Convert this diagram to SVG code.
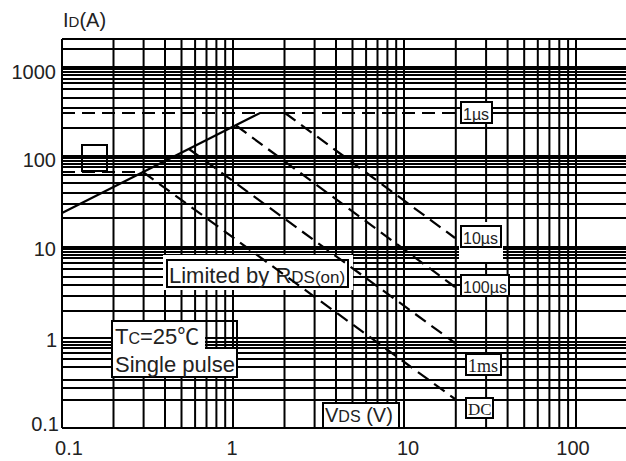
<svg xmlns="http://www.w3.org/2000/svg" width="626" height="461" viewBox="0 0 626 461">
<style>
.grid{stroke:#000;stroke-width:2;fill:none}
.t{font-family:"Liberation Sans","Noto Sans CJK SC",sans-serif;fill:#222}
.ts{font-family:"Liberation Serif",serif;fill:#222}
.box{fill:#fff;stroke:#000;stroke-width:2}
.bg{fill:#fff;stroke:none}
.solid{stroke:#000;stroke-width:2.2;fill:none}
.dash{stroke:#000;stroke-width:2.2;fill:none;stroke-dasharray:13 7}
</style>
<rect width="626" height="461" fill="#fff"/>
<g id="grid" class="grid">
<path d="M62 39V428M113.5 39V428M143.6 39V428M165 39V428M181.5 39V428M195.1 39V428M206.5 39V428M216.4 39V428M225.2 39V428M233 39V428M284.5 39V428M314.6 39V428M336 39V428M352.5 39V428M366.1 39V428M377.5 39V428M387.4 39V428M396.2 39V428M404 39V428M455.8 39V428M486.1 39V428M507.6 39V428M524.2 39V428M537.8 39V428M549.4 39V428M559.3 39V428M568.1 39V428M576 39V428"/>
<path d="M62 39H626M62 49H626M62 67H626M62 69H626M62 72H626M62 75H626M62 79H626M62 83H626M62 89H626M62 98H626M62 108H626M62 128H626M492 113H626M62 156H626M62 158H626M62 161H626M62 164H626M62 167H626M62 175H626M62 183H626M62 193H626M62 204H626M62 218H626M62 247H626M62 249H626M62 252H626M62 255H626M62 258H626M62 263H626M62 269H626M62 277H626M62 285H626M62 296H626M62 311H626M62 338H626M62 342H626M62 345H626M62 348H626M62 353H626M62 359H626M62 367H626M62 380H626M62 388H626M62 400H626M62 428H626"/>
</g>
<g id="axis-labels" class="t" font-size="20">
<text x="63" y="27">I<tspan font-size="15">D</tspan>(A)</text>
<text x="56" y="79" text-anchor="end">1000</text>
<text x="56" y="167" text-anchor="end">100</text>
<text x="56" y="256" text-anchor="end">10</text>
<text x="57" y="347" text-anchor="end">1</text>
<text x="59" y="431" text-anchor="end">0.1</text>
<text x="69" y="455" text-anchor="middle">0.1</text>
<text x="232" y="455" text-anchor="middle">1</text>
<text x="408" y="455" text-anchor="middle">10</text>
<text x="573" y="455" text-anchor="middle">100</text>
</g>
<g id="label-rds">
<rect class="bg" x="163" y="255" width="190" height="35"/>
<rect class="box" x="167" y="260" width="181" height="27"/>
<text class="t" x="169" y="283" font-size="22">Limited by R<tspan font-size="17">DS(on)</tspan></text>
</g>
<g id="label-tc">
<rect class="bg" x="112" y="321" width="93" height="28"/>
<rect class="bg" x="112" y="349" width="125" height="28"/>
<rect x="112" y="321" width="125" height="56" fill="none" stroke="#000" stroke-width="2"/>
<text class="t" x="115" y="344" font-size="22">T<tspan font-size="16">C</tspan>=25℃</text>
<text class="t" x="115" y="372" font-size="22">Single pulse</text>
</g>
<g id="label-vds">
<rect class="box" x="323" y="403" width="76" height="25"/>
<text class="t" x="325" y="422" font-size="20">V<tspan font-size="16">DS</tspan> (V)</text>
</g>
<g id="connectors">
<rect x="82" y="145" width="25" height="26" fill="none" stroke="#000" stroke-width="2"/>
<path class="solid" d="M62 213L260 113H285"/>
<path class="dash" d="M62 113H455" stroke-dasharray="14 6"/>
<path class="dash" d="M62 172H143" stroke-dasharray="14 5 40 5"/>
<path class="dash" d="M285 113L455 238"/>
<path class="dash" d="M236 125.5L455 287"/>
<path class="dash" d="M189 149L455 343"/>
<path class="dash" d="M143 172L455 399"/>
</g>
<g id="label-1us">
<rect class="box" x="461" y="102" width="31" height="21"/>
<text class="t" x="463" y="120" font-size="16">1µs</text>
</g>
<g id="label-10us">
<rect class="bg" x="459" y="222" width="44" height="40"/>
<rect class="box" x="461" y="226" width="40" height="21"/>
<text class="t" x="463" y="244" font-size="16">10µs</text>
</g>
<g id="label-100us">
<rect class="box" x="461" y="275" width="48" height="21"/>
<text class="t" x="463" y="293" font-size="16">100µs</text>
</g>
<g id="label-1ms">
<rect class="box" x="466" y="354" width="35" height="21"/>
<text class="ts" x="468" y="372" font-size="18">1ms</text>
</g>
<g id="label-dc">
<rect class="box" x="466" y="398" width="27" height="20"/>
<text class="ts" x="468" y="415" font-size="17">DC</text>
</g>
</svg>
